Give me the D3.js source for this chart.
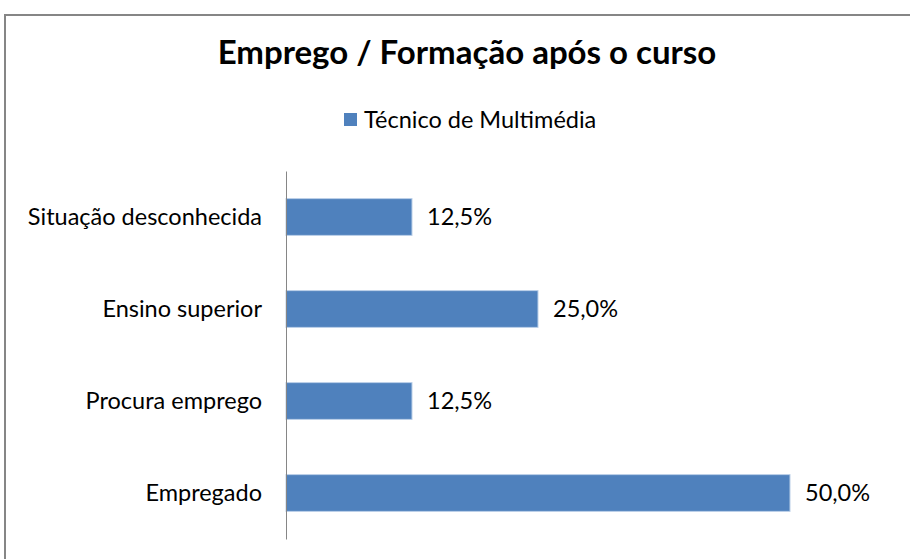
<!DOCTYPE html>
<html><head><meta charset="utf-8">
<script src="https://cdn.jsdelivr.net/npm/d3@7"></script>
<style>body{margin:0;background:#fff;}svg{display:block;font-family:Lato,"Open Sans",sans-serif;}</style>
</head><body>
<svg id="c" width="910" height="559"></svg>
<script>
const title = "Emprego / Formação após o curso";
const seriesName = "Técnico de Multimédia";
const categories = ["Situação desconhecida", "Ensino superior", "Procura emprego", "Empregado"];
const values = [12.5, 25.0, 12.5, 50.0];
const valueLabels = ["12,5%", "25,0%", "12,5%", "50,0%"];

const svg = d3.select("#c");
svg.append("rect").attr("x", 5).attr("y", 15).attr("width", 1000).attr("height", 1000)
  .attr("fill", "#fff").attr("stroke", "#868686").attr("stroke-width", 2);

svg.append("text").attr("x", 467).attr("y", 64).attr("text-anchor", "middle")
  .attr("font-size", 33).attr("font-weight", "bold").attr("fill", "#000").text(title);

const lg = svg.append("g");
lg.append("rect").attr("x", 344).attr("y", 113).attr("width", 13).attr("height", 13).attr("fill", "#4F81BD");
lg.append("text").attr("x", 364).attr("y", 128).attr("font-size", 23.5).attr("fill", "#000").text(seriesName);

const x = d3.scaleLinear().domain([0, 50]).range([286, 790]);
const y = d3.scaleBand().domain(categories).range([171, 539]).paddingInner(0.6).paddingOuter(0.3);

svg.append("g").selectAll("rect").data(categories).join("rect")
  .attr("x", x(0)).attr("y", d => y(d))
  .attr("width", (d, i) => x(values[i]) - x(0)).attr("height", y.bandwidth())
  .attr("fill", "#4F81BD").attr("stroke", "#BCD0E8").attr("stroke-width", 1);

const yAxis = d3.axisLeft(y).tickSize(0).tickPadding(24);
const ga = svg.append("g").attr("transform", `translate(${x(0)},0)`).call(yAxis);
ga.select(".domain").attr("stroke", "#868686").attr("stroke-width", 1);
ga.selectAll("text").attr("font-size", 23.5).attr("font-family", "Lato, 'Open Sans', sans-serif").attr("fill", "#000");

svg.append("g").selectAll("text").data(categories).join("text")
  .attr("x", (d, i) => x(values[i]) + 15).attr("y", d => y(d) + y.bandwidth() / 2)
  .attr("dy", "0.35em").attr("font-size", 23.5).attr("fill", "#000")
  .text((d, i) => valueLabels[i]);
</script>
</body></html>
